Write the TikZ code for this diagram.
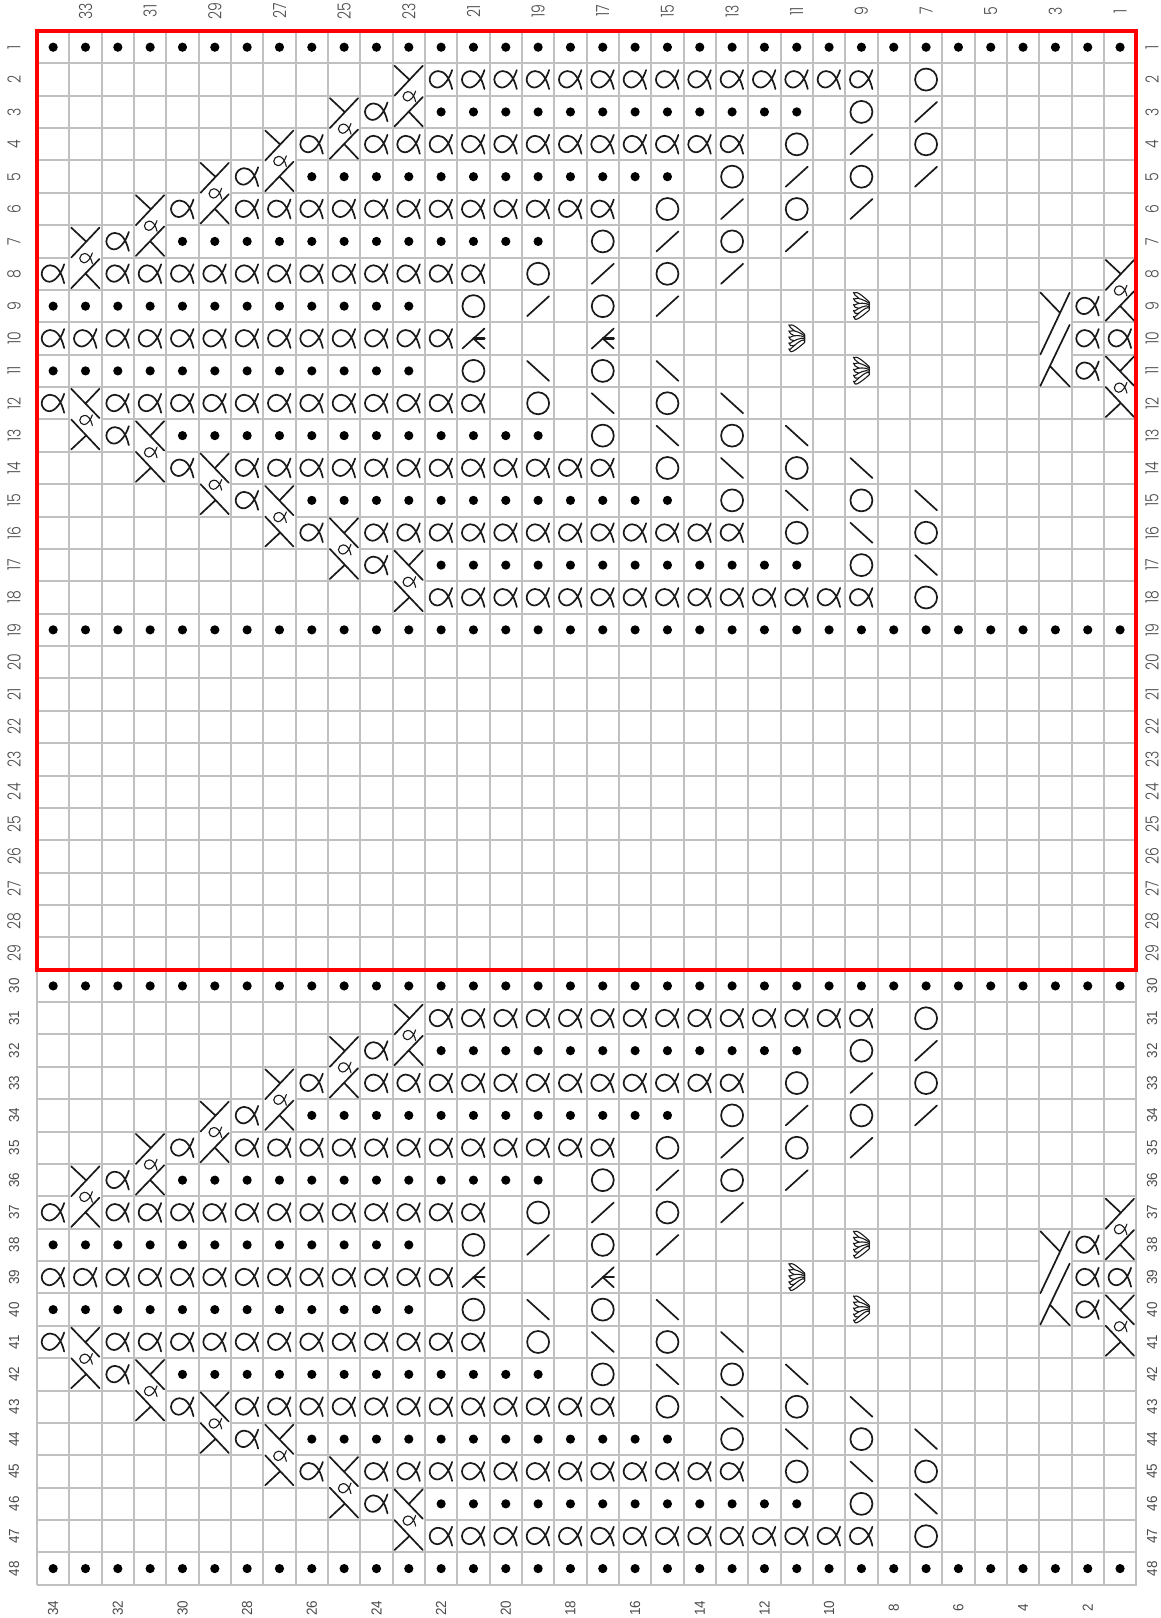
\documentclass[tikz,border=0pt]{standalone}
\usepackage{fontspec}
\setmainfont{Liberation Sans}
\newfontfamily\gothicfont{Poppins}[UprightFont=* Light]
\definecolor{gridgray}{HTML}{C0C0C0}
\definecolor{inkblack}{HTML}{1A1A1A}
\definecolor{labelgray}{HTML}{4A4A4A}
\tikzset{
  inkline/.style={draw=inkblack,line width=0.85pt,line cap=round},
  thinink/.style={draw=inkblack,line width=0.55pt,line cap=round},
  glabel/.style={text=labelgray,rotate=90,inner sep=0pt,font=\gothicfont\fontsize{9}{9}\selectfont,xscale=.78},
  alabel/.style={text=labelgray,rotate=90,inner sep=0pt,font=\fontsize{7.3}{7.3}\selectfont,xscale=.92},
  stP/.pic={\fill[black] (0,0) circle[radius=4.6];},
  stO/.pic={\draw[inkline] (0,0) circle[radius=11];},
  stL/.pic={\draw[inkline] (-11,10) -- (11,-10);},
  stR/.pic={\draw[inkline] (-11,-10) -- (11,10);},
  stQ/.pic={\draw[inkline] (11,-9.5) .. controls (8,0) and (2,8) .. (-4,8) .. controls (-8,8) and (-11.5,4) .. (-11.5,0) .. controls (-11.5,-5) and (-7,-8.5) .. (-3,-8.5) .. controls (3,-8.5) and (8,-3) .. (11,9.5);},
  stF/.pic={\draw[inkline] (-11,10) -- (11,-10) (0,0) -- (11,10); \draw[inkline,line width=1.1pt] (0,0) -- (11,0);},
  stW/.pic={\foreach \ty/\by in {-12/-3.2,-6/-1.6,0/0,6/1.6,12/3.2}{
      \draw[thinink,fill=white,rounded corners=1pt] (-8,\ty) .. controls (-4,{\ty*1.0-3.5}) and (5,{\by-3.5}) .. (9,\by) .. controls (5,{\by+3}) and (-4,{\ty*1.0+2.5}) .. (-8,\ty) -- cycle;}},
  cabtail/.pic={
    \draw[thinink,shift={(0.7,0.7)},scale=.56] (11,-9.5) .. controls (8,0) and (2,8) .. (-4,8) .. controls (-8,8) and (-11.5,4) .. (-11.5,0) .. controls (-11.5,-5) and (-7,-8.5) .. (-3,-8.5) .. controls (3,-8.5) and (8,-3) .. (11,9.5);},
  stU/.pic={
    \fill[white] (-15.1,-31.3) rectangle (15.1,31.3);
    \draw[inkline] (-14.3,0) -- (14,-30) (-14.3,-30) -- (0.7,-16)
                   (-14.3,30.7) -- (14,1.3) (0.7,16.7) -- (14,30.7);
    \pic {cabtail};},
  stD/.pic={
    \fill[white] (-15.1,-31.3) rectangle (15.1,31.3);
    \draw[inkline] (-14.3,0) -- (14,30) (-14.3,30) -- (0.7,16)
                   (-14.3,-30.7) -- (14,-1.3) (0.7,-16.7) -- (14,-30.7);
    \pic {cabtail};},
  stB/.pic={
    \fill[white] (-15.1,-47.5) rectangle (15.1,47.5);
    \draw[inkline] (-15,16) -- (14.3,-46) (-15,47.3) -- (14.3,-13.7)
                   (-15,-46) -- (4.3,-26) (-5,28) -- (14.3,48);},
}
\newcommand\colx[1]{37+(34.5-#1)*32.33}
\newcommand\rowy[1]{31+(#1-0.5)*32.37}
\newcommand\sym[3]{\path ({\colx{#2}},{\rowy{#1+\rowoff}}) pic {#3};}
\newcommand\symrun[4]{\foreach \c in {#4,...,#3}{\sym{#2}{\c}{#1}}}
\begin{document}
\begin{tikzpicture}[x=0.5pt,y=-0.5pt]
\useasboundingbox (0,0) rectangle (1161,1618);
% grid
\foreach \k in {0,...,34}{\draw[gridgray,line width=1pt] ({37+\k*32.33},31) -- ({37+\k*32.33},{31+48*32.37});}
\foreach \k in {0,...,48}{\draw[gridgray,line width=1pt] (36.5,{31+\k*32.37}) -- ({37.5+34*32.33},{31+\k*32.37});}
% stitches
\foreach \rowoff in {0,29}{
  \symrun{stP}{1}{34}{1}
  \sym{2.5}{23}{stU}\symrun{stQ}{2}{22}{9}\sym{2}{7}{stO}
  \sym{3.5}{25}{stU}\sym{3}{24}{stQ}\symrun{stP}{3}{22}{11}\sym{3}{9}{stO}\sym{3}{7}{stL}
  \sym{4.5}{27}{stU}\sym{4}{26}{stQ}\symrun{stQ}{4}{24}{13}\sym{4}{11}{stO}\sym{4}{9}{stL}\sym{4}{7}{stO}
  \sym{5.5}{29}{stU}\sym{5}{28}{stQ}\symrun{stP}{5}{26}{15}\sym{5}{13}{stO}\sym{5}{11}{stL}\sym{5}{9}{stO}\sym{5}{7}{stL}
  \sym{6.5}{31}{stU}\sym{6}{30}{stQ}\symrun{stQ}{6}{28}{17}\sym{6}{15}{stO}\sym{6}{13}{stL}\sym{6}{11}{stO}\sym{6}{9}{stL}
  \sym{7.5}{33}{stU}\sym{7}{32}{stQ}\symrun{stP}{7}{30}{19}\sym{7}{17}{stO}\sym{7}{15}{stL}\sym{7}{13}{stO}\sym{7}{11}{stL}
  \sym{8}{34}{stQ}\symrun{stQ}{8}{32}{21}\sym{8}{19}{stO}\sym{8}{17}{stL}\sym{8}{15}{stO}\sym{8}{13}{stL}
  \sym{8.5}{1}{stU}
  \symrun{stP}{9}{34}{23}\sym{9}{21}{stO}\sym{9}{19}{stL}\sym{9}{17}{stO}\sym{9}{15}{stL}\sym{9}{9}{stW}
  \sym{10}{3}{stB}\sym{9}{2}{stQ}
  \symrun{stQ}{10}{34}{22}\sym{10}{21}{stF}\sym{10}{17}{stF}\sym{10}{11}{stW}\sym{10}{2}{stQ}\sym{10}{1}{stQ}
  \symrun{stP}{11}{34}{23}\sym{11}{21}{stO}\sym{11}{19}{stR}\sym{11}{17}{stO}\sym{11}{15}{stR}\sym{11}{9}{stW}\sym{11}{2}{stQ}
  \sym{11.5}{1}{stD}
  \sym{12}{34}{stQ}\sym{12.5}{33}{stD}\symrun{stQ}{12}{32}{21}\sym{12}{19}{stO}\sym{12}{17}{stR}\sym{12}{15}{stO}\sym{12}{13}{stR}
  \sym{13}{32}{stQ}\sym{13.5}{31}{stD}\symrun{stP}{13}{30}{19}\sym{13}{17}{stO}\sym{13}{15}{stR}\sym{13}{13}{stO}\sym{13}{11}{stR}
  \sym{14}{30}{stQ}\sym{14.5}{29}{stD}\symrun{stQ}{14}{28}{17}\sym{14}{15}{stO}\sym{14}{13}{stR}\sym{14}{11}{stO}\sym{14}{9}{stR}
  \sym{15}{28}{stQ}\sym{15.5}{27}{stD}\symrun{stP}{15}{26}{15}\sym{15}{13}{stO}\sym{15}{11}{stR}\sym{15}{9}{stO}\sym{15}{7}{stR}
  \sym{16}{26}{stQ}\sym{16.5}{25}{stD}\symrun{stQ}{16}{24}{13}\sym{16}{11}{stO}\sym{16}{9}{stR}\sym{16}{7}{stO}
  \sym{17}{24}{stQ}\sym{17.5}{23}{stD}\symrun{stP}{17}{22}{11}\sym{17}{9}{stO}\sym{17}{7}{stR}
  \symrun{stQ}{18}{22}{9}\sym{18}{7}{stO}
  \symrun{stP}{19}{34}{1}
}
% red frame
\draw[red,line width=2.15pt,line join=miter] (37,31) rectangle (1136,970);
% labels
\foreach \r in {1,...,29}{
  \node[glabel] (ll\r) at (14,{\rowy{\r}}) {\r};
  \node[glabel] (rl\r) at (1152,{\rowy{\r}}) {\r};
}
\foreach \r in {30,...,48}{
  \node[alabel] (ll\r) at (14,{\rowy{\r}}) {\r};
  \node[alabel] (rl\r) at (1152,{\rowy{\r}}) {\r};
}
\foreach \c in {1,3,...,33}{\node[glabel] (tl\c) at ({\colx{\c}},11) {\c};}
\foreach \c in {2,4,...,34}{\node[alabel] (bl\c) at ({\colx{\c}},1608) {\c};}
\end{tikzpicture}
\end{document}
